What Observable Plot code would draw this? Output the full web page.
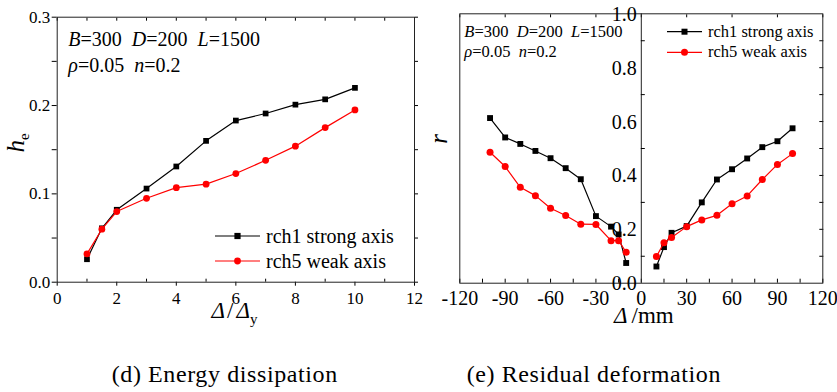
<!DOCTYPE html>
<html><head><meta charset="utf-8">
<script src="https://cdn.jsdelivr.net/npm/d3@7"></script>
<script src="https://cdn.jsdelivr.net/npm/@observablehq/plot@0.6"></script>
<style>
body{margin:0;background:#fff;font-family:"Liberation Serif","Times New Roman",serif;}
#wrap{position:relative;width:837px;height:392px;overflow:hidden;background:#fff;}
.cap{position:absolute;white-space:nowrap;color:#000;line-height:1;font-size:24px;letter-spacing:0.6px;font-family:"Liberation Serif",serif;}
.ylab{position:absolute;white-space:nowrap;color:#000;line-height:1;font-size:20px;font-family:"Liberation Serif",serif;transform:translate(-100%,-50%);z-index:5;}
</style></head><body><div id="wrap"></div>
<script>
// ---------- data ----------
const series = ["rch1 strong axis", "rch5 weak axis"];
const seriesColors = ["#000000", "#ff0000"];
const seriesSymbols = ["square", "circle"];

// (d) energy dissipation
const ductility = [1, 1.5, 2, 3, 4, 5, 6, 7, 8, 9, 10];
const heStrong = [0.026, 0.061, 0.082, 0.106, 0.131, 0.160, 0.183, 0.191, 0.201, 0.207, 0.220];
const heWeak   = [0.032, 0.060, 0.080, 0.095, 0.107, 0.111, 0.123, 0.138, 0.154, 0.175, 0.195];
const xTicksD = [0, 2, 4, 6, 8, 10, 12];
const xMinorD = [1, 3, 5, 7, 9, 11];
const xTopD = [0, 1, 2, 3, 4, 5, 6, 7, 8, 9, 10, 11, 12];
const yTicksD = [0.0, 0.1, 0.2, 0.3];
const yMinorD = [0.05, 0.15, 0.25];
const yRightD = [0.0, 0.05, 0.1, 0.15, 0.2, 0.25, 0.3];

// (e) residual deformation
const dispNeg = [-100, -90, -80, -70, -60, -50, -40, -30, -20, -15, -10];
const rStrongNeg = [0.613, 0.541, 0.517, 0.491, 0.464, 0.427, 0.386, 0.249, 0.210, 0.181, 0.075];
const rWeakNeg   = [0.486, 0.433, 0.356, 0.325, 0.278, 0.251, 0.219, 0.218, 0.158, 0.158, 0.115];
const dispPos = [10, 15, 20, 30, 40, 50, 60, 70, 80, 90, 100];
const rStrongPos = [0.062, 0.134, 0.187, 0.212, 0.300, 0.385, 0.423, 0.463, 0.505, 0.527, 0.575];
const rWeakPos   = [0.099, 0.150, 0.170, 0.210, 0.235, 0.252, 0.295, 0.324, 0.385, 0.441, 0.481];
const xTicksE = [-120, -90, -60, -30, 0, 30, 60, 90, 120];
const xMinorE = [-105, -75, -45, -15, 15, 45, 75, 105];
const yTicksE = [0.0, 0.2, 0.4, 0.6, 0.8, 1.0];
const yMinorE = [0.1, 0.3, 0.5, 0.7, 0.9];
const yRightE = [0.1, 0.2, 0.3, 0.4, 0.5, 0.6, 0.7, 0.8, 0.9];

const paramLine1 = [["B", true], ["=300\u00a0\u00a0", false], ["D", true], ["=200\u00a0\u00a0", false], ["L", true], ["=1500", false]];
const paramLine2 = [["\u03c1", true], ["=0.05\u00a0\u00a0", false], ["n", true], ["=0.2", false]];
const captions = ["(d) Energy dissipation", "(e) Residual deformation"];

// ---------- helpers ----------
const wrap = document.getElementById("wrap");
const FONT = "'Liberation Serif', 'Times New Roman', serif";

function place(svg, left, z) {
  svg.style.position = "absolute";
  svg.style.left = left + "px";
  svg.style.top = "0px";
  svg.style.zIndex = z;
  wrap.appendChild(svg);
}
function rich(parent, x, y, size, parts, transform, anchor) {
  const t = parent.append("text").attr("x", x).attr("y", y).attr("font-size", size)
    .attr("fill", "#000").attr("font-family", FONT).attr("text-anchor", anchor || "start");
  if (transform) t.attr("transform", transform);
  for (const p of parts) {
    const s = t.append("tspan").text(p.t);
    if (p.i) s.attr("font-style", "italic");
    if (p.s) s.attr("font-size", p.s);
    if (p.dy) s.attr("dy", p.dy);
    if (p.dx) s.attr("dx", p.dx);
  }
  return t;
}
function legend(svg, x0, x1, rows, size, baseOff, rSq, rCi) {
  const g = d3.select(svg).append("g");
  series.forEach((name, i) => {
    const y = rows[i];
    g.append("line").attr("x1", x0).attr("x2", x1).attr("y1", y).attr("y2", y)
      .attr("stroke", seriesColors[i]).attr("stroke-width", 1.2);
    const cx = (x0 + x1) / 2;
    if (seriesSymbols[i] === "square") {
      g.append("rect").attr("x", cx - rSq).attr("y", y - rSq).attr("width", 2 * rSq).attr("height", 2 * rSq)
        .attr("fill", seriesColors[i]);
    } else {
      g.append("circle").attr("cx", cx).attr("cy", y).attr("r", rCi).attr("fill", seriesColors[i]);
    }
    g.append("text").attr("x", x1 + 6).attr("y", y + baseOff).attr("font-size", size)
      .attr("font-family", FONT).attr("text-anchor", "start").attr("fill", "#000").text(name);
  });
}
function seriesMarks(rowsBySeries, rDot) {
  const m = [];
  rowsBySeries.forEach((rows, i) => {
    m.push(Plot.line(rows, {x: "x", y: "y", z: "g", stroke: seriesColors[i], strokeWidth: 1.2}));
    m.push(Plot.dot(rows, {x: "x", y: "y", symbol: seriesSymbols[i], fill: seriesColors[i], stroke: "none",
      r: seriesSymbols[i] === "square" ? rDot * 0.95 : rDot}));
  });
  return m;
}
const blank = () => "";

// ---------- (d) ----------
const rowsD = [
  ductility.map((x, i) => ({x, y: heStrong[i], g: "a"})),
  ductility.map((x, i) => ({x, y: heWeak[i], g: "a"}))
];
const svgD = Plot.plot({
  width: 420, height: 330,
  marginLeft: 56.7, marginRight: 6, marginTop: 16.7, marginBottom: 48.3,
  style: {fontFamily: FONT, fontSize: "17px", color: "#000", background: "transparent", overflow: "visible"},
  x: {domain: [0, 12]},
  y: {domain: [0, 0.3]},
  marks: [
    Plot.axisX(xTicksD, {tickSize: 4, tickPadding: 5.5, tickFormat: d => String(d), label: null, fontSize: 17}),
    Plot.axisX(xMinorD, {tickSize: -3, tickFormat: blank, label: null}),
    Plot.axisX(xTopD, {anchor: "top", tickSize: -3, tickFormat: blank, label: null}),
    Plot.axisY(yTicksD, {tickSize: 5, tickPadding: 2, tickFormat: d => d.toFixed(1), label: null, fontSize: 17}),
    Plot.axisY(yMinorD, {tickSize: 5, tickFormat: blank, label: null}),
    Plot.axisY(yRightD, {anchor: "right", tickSize: 3, tickFormat: blank, label: null}),
    Plot.frame({stroke: "#222", strokeWidth: 1}),
    ...seriesMarks(rowsD, 3.4)
  ]
});
place(svgD, 0, 1);
{
  const s = d3.select(svgD);
  rich(s, 68.3, 45.7, 20, paramLine1.map(([t, i]) => ({t, i})));
  rich(s, 68.3, 71.7, 20, paramLine2.map(([t, i]) => ({t, i})));
  rich(s, 0, 0, 25, [{t: "h", i: true}, {t: "e", s: 15, dy: 5}], "translate(24,143) rotate(-90)", "middle");
  rich(s, 211.5, 318, 23, [{t: "\u0394", i: true}, {t: "/", dx: 2}, {t: "\u0394", i: true, dx: 3}, {t: "y", s: 15, dy: 6}]);
  legend(svgD, 215, 260, [236, 261], 20, 7, 3.1, 3.4);
}

// ---------- (e) ----------
const rowsE = [
  [...dispNeg.map((x, i) => ({x, y: rStrongNeg[i], g: "n"})), ...dispPos.map((x, i) => ({x, y: rStrongPos[i], g: "p"}))],
  [...dispNeg.map((x, i) => ({x, y: rWeakNeg[i], g: "n"})), ...dispPos.map((x, i) => ({x, y: rWeakPos[i], g: "p"}))]
];
const svgE = Plot.plot({
  width: 417, height: 330,
  marginLeft: 39.3, marginRight: 14.7, marginTop: 13.3, marginBottom: 47.3,
  style: {fontFamily: FONT, fontSize: "20px", color: "#000", background: "transparent", overflow: "visible"},
  x: {domain: [-120, 120]},
  y: {domain: [0, 1]},
  marks: [
    Plot.axisX(xTicksE, {tickSize: -4, tickPadding: 11.4, tickFormat: d => String(d), label: null, fontSize: 20}),
    Plot.axisX(xMinorE, {tickSize: -4, tickFormat: blank, label: null}),
    Plot.axisX(xTicksE, {anchor: "top", tickSize: -3, tickFormat: blank, label: null}),
    Plot.axisY(yRightE, {anchor: "right", tickSize: -4, tickFormat: blank, label: null}),
    Plot.ruleX([0], {stroke: "#222", strokeWidth: 1}),
    Plot.axisY(yMinorE, {x: 0, anchor: "left", tickSize: -4, tickFormat: blank, label: null}),
    Plot.frame({stroke: "#222", strokeWidth: 1}),
    ...seriesMarks(rowsE, 3.5)
  ]
});
const leftE = 420;
place(svgE, leftE, 2);
{
  const s = d3.select(svgE);
  rich(s, 44.3, 36.7, 16.5, paramLine1.map(([t, i]) => ({t, i})));
  rich(s, 44.3, 57.3, 16.5, paramLine2.map(([t, i]) => ({t, i})));
  rich(s, 0, 0, 25, [{t: "r", i: true}], "translate(27,139) rotate(-90)", "middle");
  rich(s, 194, 323, 23, [{t: "\u0394", i: true}, {t: "/mm", dx: 4}]);
  legend(svgE, 247, 282, [31.7, 52.3], 16.5, 5, 3.0, 3.5);
  // y tick labels of the centred axis, placed with the chart's own scales
  const sx = svgE.scale("x"), sy = svgE.scale("y");
  yTicksE.forEach(v => {
    const d = document.createElement("div");
    d.className = "ylab";
    d.style.left = (leftE + sx.apply(0) - 4) + "px";
    d.style.top = (sy.apply(v) + 0.5) + "px";
    d.textContent = v.toFixed(1);
    wrap.appendChild(d);
  });
}

// ---------- captions ----------
[[captions[0], 111.7], [captions[1], 466.7]].forEach(([t, x]) => {
  const d = document.createElement("div");
  d.className = "cap";
  d.style.left = x + "px";
  d.style.top = "361.6px";
  d.textContent = t;
  wrap.appendChild(d);
});
</script>
</body></html>
